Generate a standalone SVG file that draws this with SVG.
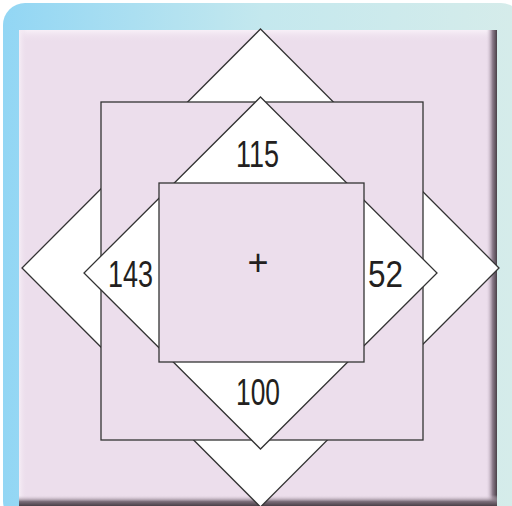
<svg xmlns="http://www.w3.org/2000/svg" width="512" height="506" viewBox="0 0 512 506">
<defs>
<linearGradient id="bg" x1="0" y1="0" x2="1" y2="0">
<stop offset="0" stop-color="#92d6f4"/>
<stop offset="0.5" stop-color="#c4e8ee"/>
<stop offset="1" stop-color="#d6ecea"/>
</linearGradient>
<linearGradient id="shR" x1="0" y1="0" x2="1" y2="0">
<stop offset="0" stop-color="#ecdeec" stop-opacity="0"/>
<stop offset="0.6" stop-color="#8a7a8a"/>
<stop offset="1" stop-color="#4a4048"/>
</linearGradient>
<linearGradient id="shB" x1="0" y1="0" x2="0" y2="1">
<stop offset="0" stop-color="#ecdeec" stop-opacity="0"/>
<stop offset="0.6" stop-color="#7a6c78"/>
<stop offset="1" stop-color="#4a4048"/>
</linearGradient>
<linearGradient id="hlT" x1="0" y1="0" x2="0" y2="1">
<stop offset="0" stop-color="#f8f0f8"/>
<stop offset="1" stop-color="#ecdeec" stop-opacity="0"/>
</linearGradient>
<linearGradient id="hlL" x1="0" y1="0" x2="1" y2="0">
<stop offset="0" stop-color="#f6eef6"/>
<stop offset="1" stop-color="#ecdeec" stop-opacity="0"/>
</linearGradient>
</defs>
<style>
.sh{fill:#ffffff;stroke:#333333;stroke-width:1.3}
.sq{fill:#ecdeec;stroke:#333333;stroke-width:1.3}
.lbl{font-family:"Liberation Sans","DejaVu Sans",sans-serif;font-size:36px;fill:#231f20;text-anchor:middle}
</style>
<g id="background">
<rect x="3" y="3" width="520" height="520" rx="22" fill="url(#bg)"/>
<rect x="19" y="30" width="478" height="476" fill="#ecdeec"/>
<rect x="19" y="30" width="478" height="12" fill="url(#hlT)"/>
<rect x="19" y="30" width="8" height="476" fill="url(#hlL)"/>
<rect x="486" y="30" width="11" height="476" fill="url(#shR)"/>
<rect x="19" y="495" width="478" height="11" fill="url(#shB)"/>
</g>
<g id="outer-diamond">
<polygon class="sh" points="260.5,29 499,268 260.5,507 22,268"/>
</g>
<g id="outer-square">
<rect class="sq" x="101" y="102" width="322" height="338"/>
</g>
<g id="middle-diamond">
<polygon class="sh" points="260.5,97 437,273 260.5,449 84,273"/>
</g>
<g id="inner-square">
<rect class="sq" x="159" y="183" width="205" height="179"/>
</g>
<g id="labels">
<text class="lbl" x="257.5" y="167" textLength="43" lengthAdjust="spacingAndGlyphs">115</text>
<text class="lbl" x="130.5" y="287" textLength="45" lengthAdjust="spacingAndGlyphs">143</text>
<text class="lbl" x="385.5" y="287" textLength="35" lengthAdjust="spacingAndGlyphs">52</text>
<text class="lbl" x="258" y="405" textLength="44" lengthAdjust="spacingAndGlyphs">100</text>
<text class="lbl" x="258" y="275">+</text>
</g>
</svg>
